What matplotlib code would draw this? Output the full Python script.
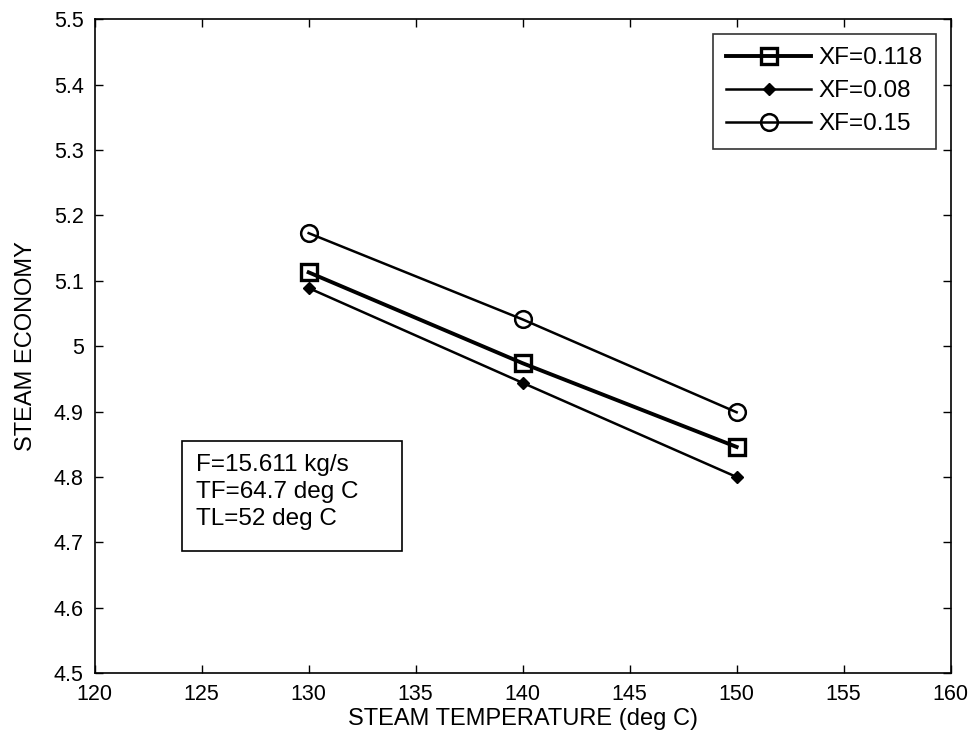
import matplotlib
matplotlib.use("Agg")
import matplotlib.pyplot as plt
from matplotlib.patches import Rectangle

plt.rcParams['font.family'] = ['Liberation Sans', 'DejaVu Sans']

# Steam temperature (deg C) and steam economy for three feed concentrations
steam_temp = [130, 140, 150]
economy_xf0118 = [5.113, 4.974, 4.846]
economy_xf008 = [5.089, 4.944, 4.800]
economy_xf015 = [5.173, 5.041, 4.899]

x_ticks = [120, 125, 130, 135, 140, 145, 150, 155, 160]
y_ticks = [4.5, 4.6, 4.7, 4.8, 4.9, 5.0, 5.1, 5.2, 5.3, 5.4, 5.5]
y_tick_labels = ['4.5', '4.6', '4.7', '4.8', '4.9', '5', '5.1', '5.2', '5.3', '5.4', '5.5']

fig = plt.figure(figsize=(9.76, 7.43), dpi=100)
ax = fig.add_axes([0.097, 0.094, 0.877, 0.880])

ax.plot(steam_temp, economy_xf0118, color='black', lw=2.8, marker='s', ms=12,
        mfc='none', mec='black', mew=2.4, label='XF=0.118')
ax.plot(steam_temp, economy_xf008, color='black', lw=1.8, marker='D', ms=6.5,
        mfc='black', mec='black', label='XF=0.08')
ax.plot(steam_temp, economy_xf015, color='black', lw=1.8, marker='o', ms=12,
        mfc='none', mec='black', mew=1.8, label='XF=0.15')

ax.set_xlim(120, 160)
ax.set_ylim(4.5, 5.5)
ax.set_xticks(x_ticks)
ax.set_yticks(y_ticks)
ax.set_yticklabels(y_tick_labels)
ax.tick_params(direction='in', top=True, right=True, length=6, width=1,
               labelsize=15.5)
ax.tick_params(axis='x', pad=8)
ax.tick_params(axis='y', pad=8)
for s in ax.spines.values():
    s.set_linewidth(1.2)

ax.set_xlabel('STEAM TEMPERATURE (deg C)', fontsize=17, labelpad=2)
ax.set_ylabel('STEAM ECONOMY', fontsize=17, labelpad=12)

leg = ax.legend(loc='upper right', fontsize=17.5, frameon=True, fancybox=False,
                edgecolor='black', handlelength=3.5, borderaxespad=0.6,
                labelspacing=0.45, borderpad=0.55, handletextpad=0.3)
leg.get_frame().set_linewidth(1.2)

# Operating conditions box
ax.add_patch(Rectangle((0.1016, 0.1865), 0.258, 0.168, transform=ax.transAxes,
                       fc='white', ec='black', lw=1.2, zorder=4))
ax.text(0.118, 0.335, 'F=15.611 kg/s\nTF=64.7 deg C\nTL=52 deg C',
        transform=ax.transAxes, fontsize=17.5, ha='left', va='top',
        linespacing=1.3, zorder=5)

fig.savefig('out.png', dpi=100, facecolor='white')
